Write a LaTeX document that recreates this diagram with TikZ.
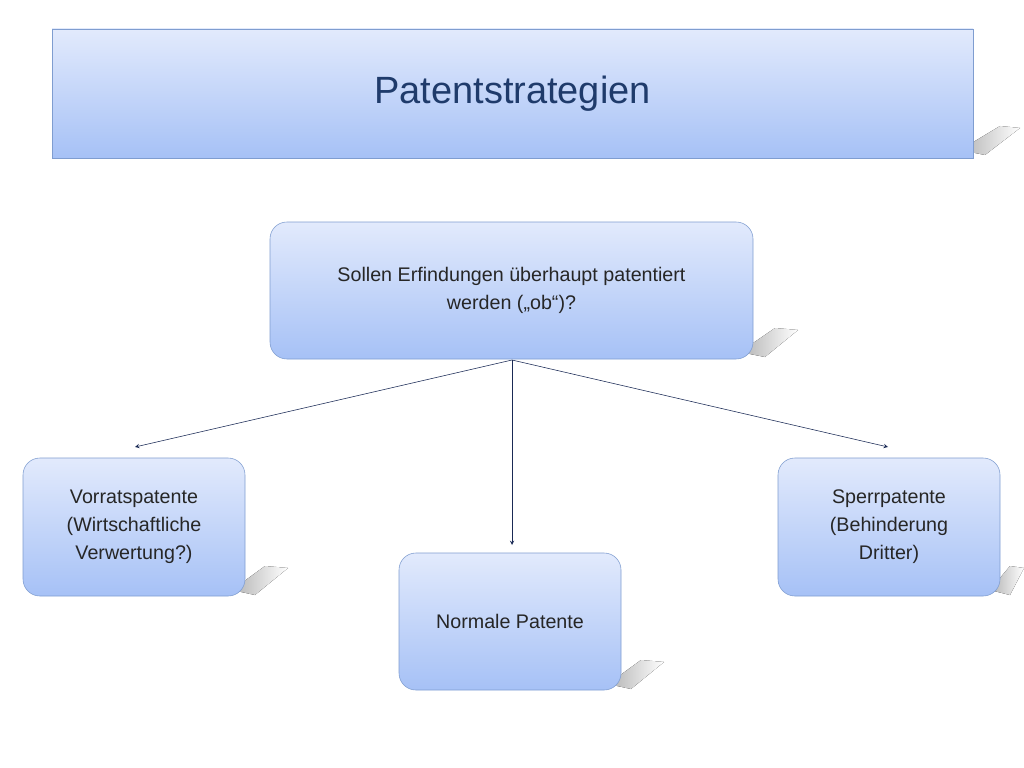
\documentclass[tikz,border=0pt]{standalone}
\usepackage{fontspec}
\setmainfont{Liberation Sans}
\usetikzlibrary{positioning}
\definecolor{boxtop}{HTML}{E2EAFC}
\definecolor{boxbot}{HTML}{A6C1F6}
\definecolor{boxline}{HTML}{7F9DD0}
\definecolor{titletext}{HTML}{1F3B6B}
\definecolor{arrowline}{HTML}{1A2A55}
\begin{document}
\begin{tikzpicture}
    [
      x=0.025cm, y=-0.025cm,
      box/.style={draw=boxline, top color=boxtop, bottom color=boxbot, rounded corners=12pt,
        inner sep=0pt, align=center, font=\fontsize{14}{20}\selectfont, text=black!85},
      titlebox/.style={draw=boxline, top color=boxtop, bottom color=boxbot, inner sep=0pt,
        font=\fontsize{27}{32}\selectfont, text=titletext},
      shade/.style={left color=gray!60, right color=white, draw=none},
      post/.style={->,>=stealth,thin,draw=arrowline},
    ]
    \useasboundingbox (0,0) rectangle (1024,768);

    % shadows
    \fill[shade] (960,150) -- (1000,126) -- (1020,128) -- (985,155) -- cycle;
    \fill[shade] (740,352) -- (775,328) -- (798,330) -- (765,357) -- cycle;
    \fill[shade] (232,590) -- (265,566) -- (288,568) -- (255,595) -- cycle;
    \fill[shade] (608,684) -- (641,660) -- (664,662) -- (631,689) -- cycle;
    \fill[shade] (990,590) -- (1010,566) -- (1024,568) -- (1010,595) -- cycle;

    \node (title) [titlebox, minimum width=921*0.025cm, minimum height=129*0.025cm] at (512.5,93.5) {Patentstrategien};

    \node (ob) [box, minimum width=483*0.025cm, minimum height=137*0.025cm] at (511.5,290.5)
      {Sollen Erfindungen überhaupt patentiert\\werden („ob“)?};

    \node (vorrat) [box, minimum width=222*0.025cm, minimum height=138*0.025cm] at (134,527)
      {Vorratspatente\\(Wirtschaftliche\\Verwertung?)};
    \node (normal) [box, minimum width=222*0.025cm, minimum height=137*0.025cm] at (510,621.5)
      {Normale Patente};
    \node (sperr) [box, minimum width=222*0.025cm, minimum height=138*0.025cm] at (889,527)
      {Sperrpatente\\(Behinderung\\Dritter)};

    \coordinate (ob-foot) at (512,360);
    \coordinate (vorrat-tip) at (135,447);
    \coordinate (normal-tip) at (512,545);
    \coordinate (sperr-tip) at (888,447);

    \path
    (ob-foot) edge [post] (vorrat-tip)
    (ob-foot) edge [post] (normal-tip)
    (ob-foot) edge [post] (sperr-tip)
    ;
  \end{tikzpicture}
\end{document}
